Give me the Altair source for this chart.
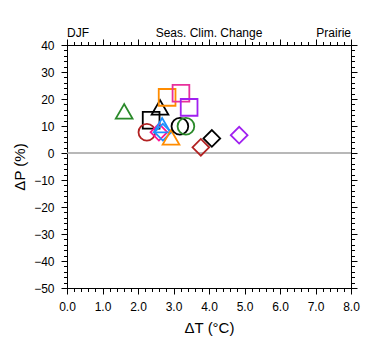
import altair as alt
import pandas as pd

# ---- data ----
dT = [1.61, 2.37, 2.62, 2.82, 3.21, 3.44, 2.25, 2.59, 2.68, 2.70, 2.93, 3.18, 3.35, 3.77, 4.08, 4.85]
dP = [15.4, 12.1, 16.9, 20.6, 22.1, 16.9, 7.7, 7.7, 10.3, 7.7, 5.8, 9.9, 9.9, 2.1, 5.4, 6.6]
shapes = ["triangle-up", "square", "triangle-up", "square", "square", "square",
          "circle", "diamond", "triangle-up", "diamond", "triangle-up", "circle",
          "circle", "diamond", "diamond", "diamond"]
colors = ["#2a8a2a", "#000000", "#000000", "#ff8c00", "#e8309c", "#a020f0",
          "#b22222", "#ff1493", "#1e90ff", "#1e90ff", "#ff8c00", "#000000",
          "#2a8a2a", "#b22222", "#000000", "#a020f0"]

x_major = [0, 1, 2, 3, 4, 5, 6, 7, 8]
x_minor = [round(i * 0.2, 1) for i in range(41)]
y_major = list(range(-50, 41, 10))
y_minor = list(range(-50, 41, 2))

df = pd.DataFrame({"dT": dT, "dP": dP, "shape": shapes, "color": colors})

FONT = "Liberation Sans"
xs = alt.Scale(domain=[0, 8], nice=False, zero=False)
ys = alt.Scale(domain=[-50, 40], nice=False, zero=False)

def ax(orient, values, size, labels=False, title=None, fmt=None, domain=True, **kw):
    args = dict(orient=orient, values=values, tickSize=size, labels=labels,
                grid=False, domain=domain, domainColor="black", tickColor="black",
                tickWidth=1, domainWidth=1, title=title, labelFlush=False,
                labelOverlap=False)
    if fmt:
        args["format"] = fmt
    args.update(kw)
    return alt.Axis(**args)

base = alt.Chart(df)

points = base.mark_point(filled=False, strokeWidth=1.8, size=280, opacity=1).encode(
    x=alt.X("dT:Q", scale=xs,
            axis=ax("bottom", x_major, 6, labels=True, title="ΔT (°C)", fmt=".1f",
                    labelFont=FONT, labelFontSize=12, labelColor="black", labelPadding=7,
                    titleFont=FONT, titleFontSize=15, titleFontWeight="normal",
                    titleColor="black", titlePadding=8)),
    y=alt.Y("dP:Q", scale=ys,
            axis=ax("left", y_major, 6, labels=True, title="ΔP (%)", fmt="d",
                    labelFont=FONT, labelFontSize=12, labelColor="black", labelPadding=7,
                    titleFont=FONT, titleFontSize=15, titleFontWeight="normal",
                    titleColor="black", titlePadding=6)),
    shape=alt.Shape("shape:N", scale=None, legend=None),
    stroke=alt.Stroke("color:N", scale=None, legend=None),
)

zero = alt.Chart(alt.Data(values=[{"z": 0}])).mark_rule(color="#a0a0a0", strokeWidth=1.5).encode(
    y=alt.Y("z:Q", scale=ys, axis=None)
)

top_right = base.mark_point(opacity=0).encode(
    x=alt.X("dT:Q", scale=xs, axis=ax("top", x_major, 6)),
    y=alt.Y("dP:Q", scale=ys, axis=ax("right", y_major, 6)),
)
minor_bl = base.mark_point(opacity=0).encode(
    x=alt.X("dT:Q", scale=xs, axis=ax("bottom", x_minor, 3.5, domain=False)),
    y=alt.Y("dP:Q", scale=ys, axis=ax("left", y_minor, 3.5, domain=False)),
)
minor_tr = base.mark_point(opacity=0).encode(
    x=alt.X("dT:Q", scale=xs, axis=ax("top", x_minor, 3.5, domain=False)),
    y=alt.Y("dP:Q", scale=ys, axis=ax("right", y_minor, 3.5, domain=False)),
)

one = alt.Data(values=[{"a": 1}])
t_left = alt.Chart(one).mark_text(font=FONT, fontSize=12, align="left", baseline="alphabetic", color="black").encode(
    x=alt.value(0), y=alt.value(-8), text=alt.value("DJF"))
t_mid = alt.Chart(one).mark_text(font=FONT, fontSize=12, align="center", baseline="alphabetic", color="black").encode(
    x=alt.value(142), y=alt.value(-8), text=alt.value("Seas. Clim. Change"))
t_right = alt.Chart(one).mark_text(font=FONT, fontSize=12, align="right", baseline="alphabetic", color="black").encode(
    x=alt.value(284), y=alt.value(-8), text=alt.value("Prairie"))

chart = alt.layer(
    zero, minor_bl, minor_tr, top_right, points, t_left, t_mid, t_right
).resolve_axis(x="independent", y="independent").properties(
    width=284, height=243,
    autosize=alt.AutoSizeParams(type="none"),
    padding={"left": 67, "top": 45, "right": 29, "bottom": 67},
    background="white",
).configure_view(stroke=None)

chart.save("out.html", embed_options={"renderer": "svg", "actions": False})
